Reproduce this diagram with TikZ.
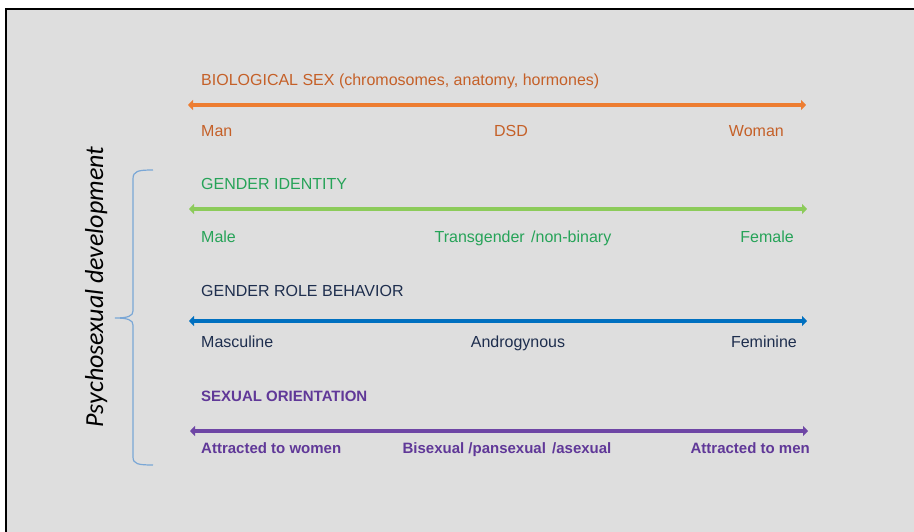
\documentclass[tikz,border=0pt]{standalone}
\usepackage{fontspec}
\setmainfont{Liberation Sans}
\newfontfamily\psyfont{Carlito}
\usetikzlibrary{arrows.meta}
\definecolor{bg}{RGB}{222,222,222}
\definecolor{orT}{RGB}{197,96,40}
\definecolor{orA}{RGB}{237,125,49}
\definecolor{grT}{RGB}{38,163,88}
\definecolor{grA}{RGB}{140,203,90}
\definecolor{blT}{RGB}{30,46,78}
\definecolor{blA}{RGB}{0,112,192}
\definecolor{puT}{RGB}{96,56,152}
\definecolor{puA}{RGB}{110,70,165}
\definecolor{brc}{RGB}{122,167,214}
\tikzset{
  lbl/.style={inner sep=0pt, font=\fontsize{16}{19}\selectfont},
  blbl/.style={inner sep=0pt, font=\fontsize{15}{18}\selectfont\bfseries},
  axisline/.style={line width=4pt, {Triangle[length=5pt,width=10pt]}-{Triangle[length=5pt,width=10pt]}},
}
\begin{document}
\begin{tikzpicture}[x=1pt,y=-1pt]
\useasboundingbox (0,0) rectangle (914,532);
\fill[white] (0,0) rectangle (914,532);
\fill[bg] (6,9) rectangle (914,532);
\draw[black, line width=2.5pt] (6,532) -- (6,9) -- (914,9);

% Biological sex
\node[lbl, text=orT, anchor=base west] (bsT) at (201,86) {BIOLOGICAL SEX (chromosomes, anatomy, hormones)};
\coordinate (bsL) at (188,105);
\coordinate (bsR) at (806,105);
\draw[axisline, orA] (bsL) -- (bsR);
\node[lbl, text=orT, anchor=base west] (bs1) at (201,137) {Man};
\node[lbl, text=orT, anchor=base] (bs2) at (511,137) {DSD};
\node[lbl, text=orT, anchor=base east] (bs3) at (784,137) {Woman};

% Gender identity
\node[lbl, text=grT, anchor=base west] (giT) at (201,190) {GENDER IDENTITY};
\coordinate (giL) at (189,209);
\coordinate (giR) at (807,209);
\draw[axisline, grA] (giL) -- (giR);
\node[lbl, text=grT, anchor=base west] (gi1) at (201,243) {Male};
\node[lbl, text=grT, anchor=base] (gi2) at (523,243) {Transgender\hspace{2pt} /non-binary};
\node[lbl, text=grT, anchor=base east] (gi3) at (794,243) {Female};

% Gender role behavior
\node[lbl, text=blT, anchor=base west] (grT) at (201,296) {GENDER ROLE BEHAVIOR};
\coordinate (grL) at (189,321);
\coordinate (grR) at (807,321);
\draw[axisline, blA] (grL) -- (grR);
\node[lbl, text=blT, anchor=base west] (gr1) at (201,347) {Masculine};
\node[lbl, text=blT, anchor=base] (gr2) at (518,347) {Androgynous};
\node[lbl, text=blT, anchor=base east] (gr3) at (797,347) {Feminine};

% Sexual orientation
\node[blbl, text=puT, anchor=base west] (soT) at (201,401) {SEXUAL ORIENTATION};
\coordinate (soL) at (190,431);
\coordinate (soR) at (808,431);
\draw[axisline, puA] (soL) -- (soR);
\node[blbl, text=puT, anchor=base west] (so1) at (201,453) {Attracted to women};
\node[blbl, text=puT, anchor=base] (so2) at (507,453) {Bisexual /pansexual\hspace{2pt} /asexual};
\node[blbl, text=puT, anchor=base east] (so3) at (810,453) {Attracted to men};

% Brace
\coordinate (brT) at (153,170);
\coordinate (brM) at (115,318);
\coordinate (brB) at (153,465);
\draw[brc, line width=1.2pt] (brT) .. controls (138,170) and (133,171) .. (133,179) -- (133,311)
  .. controls (133,316) and (128,318) .. (brM)
  .. controls (128,318) and (133,320) .. (133,325) -- (133,457)
  .. controls (133,464) and (138,465) .. (brB);

\node[inner sep=0pt, rotate=90, anchor=base, font=\psyfont\itshape\fontsize{26}{30}\selectfont] (psy) at (103,287) {Psychosexual development};
\end{tikzpicture}
\end{document}
